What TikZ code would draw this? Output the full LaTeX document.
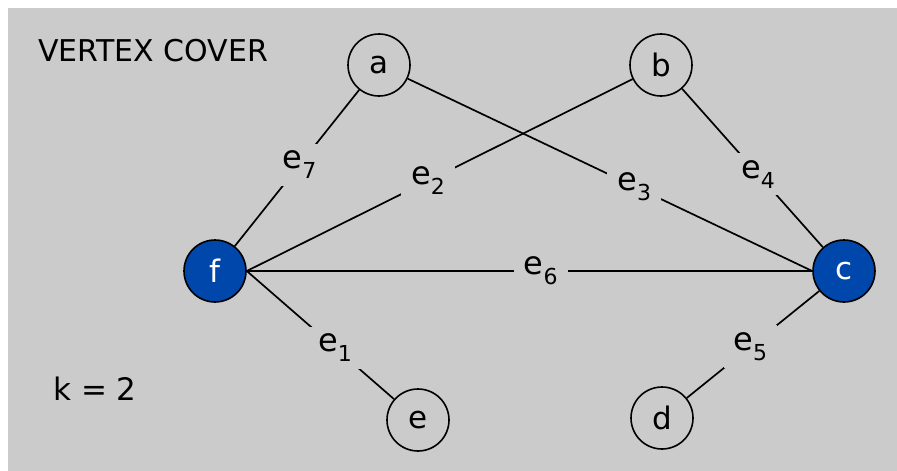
\documentclass[tikz,border=0pt]{standalone}
\usepackage{fontspec}
\setmainfont{DejaVu Sans}
\definecolor{bg}{RGB}{203,203,203}
\definecolor{nodeblue}{RGB}{0,71,171}
\newcommand{\elab}[1]{e\raisebox{-0.32em}{\fontsize{22}{22}\selectfont #1}}
\begin{document}
\begin{tikzpicture}[x=1pt,y=-1pt,
  vtx/.style={circle,draw=black,line width=1.6pt,minimum size=62pt,inner sep=0pt,font=\fontsize{31}{31}\selectfont},
  sel/.style={vtx,fill=nodeblue,text=white},
  edge/.style={line width=1.7pt,black},
  elabel/.style={fill=bg,inner xsep=10pt,inner ysep=7pt,font=\fontsize{32}{32}\selectfont}]
\useasboundingbox (0,0) rectangle (897,471);
\fill[bg] (8,8) rectangle (897,471);
\node[font=\fontsize{30}{30}\selectfont] (title) at (153,51) {VERTEX COVER};
\node[font=\fontsize{31}{31}\selectfont] (k) at (95,389) {k = 2};
\node[vtx] (a) at (379,65) {a};
\node[vtx] (b) at (661,65) {b};
\node[sel] (f) at (215,271) {f};
\node[sel] (c) at (844,271) {c};
\node[vtx] (e) at (418,420) {e};
\node[vtx] (d) at (662,418) {d};
\draw[edge] (a) -- node[elabel,pos=0.48] {\elab{7}} (f);
\draw[edge] (f.east) -- node[elabel,pos=0.47] {\elab{2}} (b);
\draw[edge] (a) -- node[elabel,pos=0.56] {\elab{3}} (c.west);
\draw[edge] (b) -- node[elabel,pos=0.54] {\elab{4}} (c);
\draw[edge] (f.east) -- node[elabel,pos=0.52] {\elab{6}} (c.west);
\draw[edge] (f.east) -- node[elabel,pos=0.60] {\elab{1}} (e);
\draw[edge] (c) -- node[elabel,pos=0.52] {\elab{5}} (d);
\end{tikzpicture}
\end{document}
